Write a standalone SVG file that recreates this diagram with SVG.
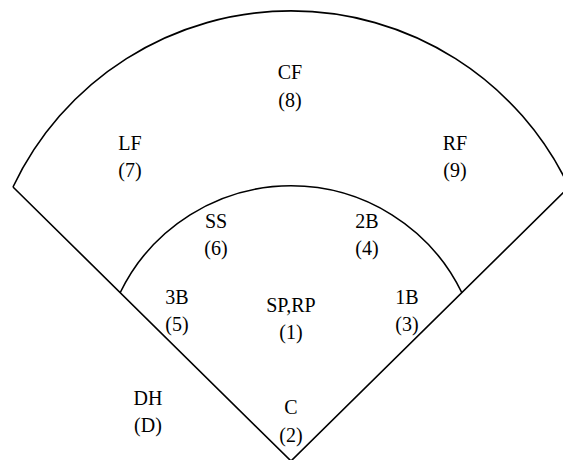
<svg xmlns="http://www.w3.org/2000/svg" width="563" height="460" viewBox="0 0 563 460">
<style>
.l{fill:none;stroke:#000;stroke-width:1.6}
text{font-family:"Liberation Serif","DejaVu Serif",serif;font-size:20px;text-anchor:middle;fill:#000}
</style>
<rect width="563" height="460" fill="#fff"/>
<g id="connectors">
<path class="l" d="M13,187 L291,461 L569,187"/>
<path class="l" d="M13,187 A307.5,307.5 0 0 1 569,187"/>
<path class="l" d="M120,293 A190,190 0 0 1 462,293"/>
</g>
<g id="cf"><text x="290" y="79">CF</text><text x="290" y="107">(8)</text></g>
<g id="lf"><text x="130" y="150">LF</text><text x="130" y="177">(7)</text></g>
<g id="rf"><text x="455" y="150">RF</text><text x="455" y="177">(9)</text></g>
<g id="ss"><text x="216" y="228">SS</text><text x="216" y="255">(6)</text></g>
<g id="b2"><text x="367" y="228">2B</text><text x="367" y="255">(4)</text></g>
<g id="b3"><text x="177" y="304">3B</text><text x="177" y="331">(5)</text></g>
<g id="p"><text x="291" y="312">SP,RP</text><text x="291" y="339">(1)</text></g>
<g id="b1"><text x="407" y="304">1B</text><text x="407" y="331">(3)</text></g>
<g id="dh"><text x="148" y="405">DH</text><text x="148" y="432">(D)</text></g>
<g id="c"><text x="291" y="414">C</text><text x="291" y="442">(2)</text></g>
</svg>
